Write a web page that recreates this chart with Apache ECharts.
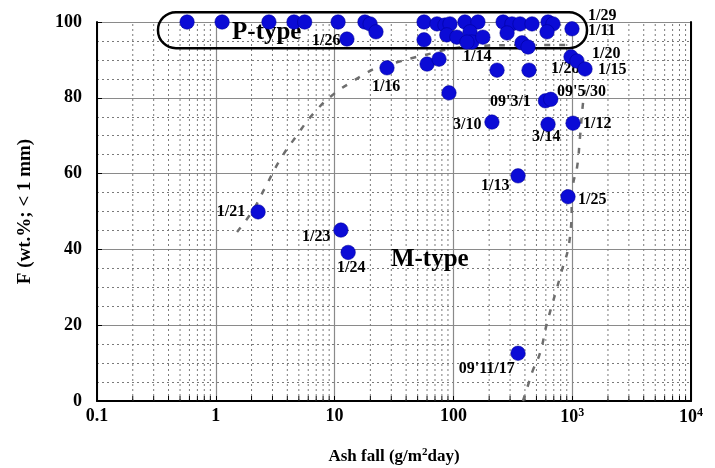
<!DOCTYPE html>
<html><head><meta charset="utf-8">
<script src="https://cdn.jsdelivr.net/npm/echarts@6/dist/echarts.min.js"></script>
<style>html,body{margin:0;padding:0;background:#fff}#c{width:715px;height:468px}</style>
</head><body><div id="c"></div>
<script>
// ---- data ----
const ashFall = [0.573,1.13,2.8,4.55,5.6,10.7,18.0,19.9,22.3,12.7,
  56.6,72.8,85,93.6,125,161,262,311,364,459,626,689,
  56.6,88,107,138,143,177,130,283,614,378,425,996,
  977,1097,1282,60,75.7,233,433,27.6,91.8,
  595,660,211,626,1016,350,922,2.27,11.3,13.0,350];
const fineFraction = [100,100,100,100,100,100,100,99.5,97.4,95.5,
  100,99.5,99.2,99.5,100,100,100,99.5,99.5,99.5,100,99.5,
  95.3,96.6,96,97.4,94.7,96,94.7,97.1,97.4,94.5,93.4,98.2,
  90.8,89.7,87.6,88.9,90.2,87.3,87.3,87.9,81.3,
  79.2,79.6,73.6,73,73.3,59.4,53.9,49.9,45.1,39.2,12.6];

const labelTexts = ['1/29','1/11','1/26','1/14','1/20','1/28','1/15','1/16',"09'5/30","09'3/1",
  '3/10','3/14','1/12','1/13','1/25','1/21','1/23','1/24',"09'11/17"];
const labelX = [1358,1358,6.45,120.5,1468,663,1649,20.6,745,203,99.3,459,1233,171,1119,1.02,5.32,10.5,111];
const labelY = [101.6,97.6,95.0,90.8,91.6,87.6,87.3,82.8,81.5,78.9,72.8,69.7,73.1,56.7,53.0,49.9,43.3,35.1,8.4];

const typeTexts = ['P-type','M-type'];
const typeX = [1.37,29.8];
const typeY = [97.1,37.2];

const pCurveX = [1.51,2.06,2.59,3.47,4.64,6.84,10.1,13.5,17.3,22.7,33.5,49.4,67.3,93.6,167,364,958];
const pCurveY = [44.6,50.4,56.2,63.6,69.4,76.3,81.3,83.9,86.0,87.9,89.4,90.8,91.8,92.9,93.7,93.9,93.9];
const mCurveX = [385,425,468,536,614,789,958,1016,1097,1164,1233,1282];
const mCurveY = [0,4.2,8.2,12.7,20.6,32.7,43.3,57.0,61.5,69.7,78.6,82.1];

const pBox = [0.326, 1333, 93.1, 102.6]; // xmin, xmax, ymin, ymax

const xTicks = [0.1,1,10,100,1000,10000];
const xTickLabels = ['0.1','1','10','100','10^3','10^4'];

// ---- build ----
const FONT = 'Liberation Serif';
const minorX = [];
for (let d = 0; d < xTicks.length - 1; d++) {
  for (let k = 2; k <= 9; k++) minorX.push([xTicks[d] * k, 0]);
}
const pts = ashFall.map((x, i) => [x, fineFraction[i]]);
const lbls = labelTexts.map((t, i) => ({ value: [labelX[i], labelY[i]], name: t }));
const types = typeTexts.map((t, i) => ({ value: [typeX[i], typeY[i]], name: t }));
const pCurve = pCurveX.map((x, i) => [x, pCurveY[i]]);
const mCurve = mCurveX.map((x, i) => [x, mCurveY[i]]);

function fmtX(v) {
  let best = 0;
  for (let i = 0; i < xTicks.length; i++) if (Math.abs(Math.log10(v) - Math.log10(xTicks[i])) < 0.01) best = i;
  const s = xTickLabels[best];
  if (s.indexOf('^') >= 0) { const p = s.split('^'); return '{n|' + p[0] + '}{s|' + p[1] + '}'; }
  return '{n|' + s + '}';
}

const textLabel = (size) => ({ show: true, position: 'right', distance: 0, formatter: '{b}', opacity: 1,
  fontFamily: FONT, fontWeight: 'bold', fontSize: size, color: '#000' });

const chart = echarts.init(document.getElementById('c'));
chart.setOption({
  animation: false,
  backgroundColor: '#fff',
  grid: { left: 97, right: 24, top: 22, bottom: 67, containLabel: false, outerBoundsMode: 'none' },
  xAxis: {
    type: 'log', logBase: 10, min: 0.1, max: 10000,
    axisLine: { lineStyle: { color: '#000', width: 2 } },
    axisTick: { inside: true, length: 5, lineStyle: { color: '#000', width: 1 } },
    axisLabel: { margin: 6, formatter: fmtX, rich: {
      n: { fontFamily: FONT, fontWeight: 'bold', fontSize: 18, color: '#000' },
      s: { fontFamily: FONT, fontWeight: 'bold', fontSize: 12, color: '#000', verticalAlign: 'top', padding: [0,0,8,0] } } },
    splitLine: { show: true, lineStyle: { color: '#8a8a8a', width: 1.2 } },
    name: 'Ash fall (g/m{s|2}day)', nameLocation: 'middle', nameGap: 46,
    nameTextStyle: { fontFamily: FONT, fontWeight: 'bold', fontSize: 17, color: '#000', rich: {
      s: { fontFamily: FONT, fontWeight: 'bold', fontSize: 11, color: '#000', verticalAlign: 'top', padding: [0,0,8,0] } } }
  },
  yAxis: [{
    type: 'value', min: 0, max: 100, interval: 20,
    axisLine: { show: true, lineStyle: { color: '#000', width: 2 } },
    axisTick: { show: true, inside: true, length: 5, lineStyle: { color: '#000' } },
    axisLabel: { margin: 15, fontFamily: FONT, fontWeight: 'bold', fontSize: 18, color: '#000' },
    splitLine: { show: true, lineStyle: { color: '#8a8a8a', width: 1.2 } },
    minorSplitLine: { show: true, lineStyle: { color: '#7a7a7a', width: 1, type: [2, 3] } },
    minorTick: { show: false, splitNumber: 4 },
    name: 'F (wt.%; < 1 mm)', nameLocation: 'middle', nameGap: 62, nameRotate: 90,
    nameTextStyle: { fontFamily: FONT, fontWeight: 'bold', fontSize: 19, color: '#000' }
  }, {
    type: 'value', min: 0, max: 100, position: 'right',
    axisLine: { show: true, lineStyle: { color: '#000', width: 2 } },
    axisTick: { show: false }, axisLabel: { show: false }, splitLine: { show: false }
  }],
  series: [
    { type: 'custom', silent: true, z: 1, clip: false, data: minorX,
      renderItem: function (params, api) {
        const v = api.value(0);
        const a = api.coord([v, 0]), b = api.coord([v, 100]);
        return { type: 'group', children: [
          { type: 'line', shape: { x1: a[0], y1: a[1], x2: b[0], y2: b[1] }, style: { stroke: '#7a7a7a', lineWidth: 1, lineDash: [2, 3] } },
          { type: 'line', shape: { x1: a[0], y1: a[1], x2: a[0], y2: a[1] - 5 }, style: { stroke: '#000', lineWidth: 1 } }
        ] };
      } },
    { type: 'line', data: pCurve, smooth: true, showSymbol: false, silent: true, z: 2,
      lineStyle: { color: '#6e6e6e', width: 2.5, type: [6, 9] } },
    { type: 'line', data: mCurve, smooth: true, showSymbol: false, silent: true, z: 2,
      lineStyle: { color: '#6e6e6e', width: 2.5, type: [6, 9] } },
    { type: 'custom', silent: true, z: 3, clip: false, data: [pBox],
      renderItem: function (params, api) {
        const p1 = api.coord([api.value(0), api.value(3)]);
        const p2 = api.coord([api.value(1), api.value(2)]);
        return { type: 'rect', shape: { x: p1[0], y: p1[1], width: p2[0] - p1[0], height: p2[1] - p1[1], r: 18 },
          style: { fill: 'none', stroke: '#000', lineWidth: 2.5 } };
      } },
    { type: 'scatter', data: types, symbolSize: 0, silent: true, z: 4, clip: false,
      itemStyle: { color: '#fff', opacity: 1 }, emphasis: { disabled: true },
      label: textLabel(25) },
    { type: 'scatter', data: lbls, symbolSize: 0, silent: true, z: 4, clip: false,
      itemStyle: { color: '#fff', opacity: 1 }, emphasis: { disabled: true },
      label: textLabel(16) },
    { type: 'scatter', data: pts, symbolSize: 14.5, z: 5, clip: false,
      itemStyle: { color: '#0b0bd6', borderColor: '#000090', borderWidth: 0.5, opacity: 1 } }
  ]
});
</script></body></html>
